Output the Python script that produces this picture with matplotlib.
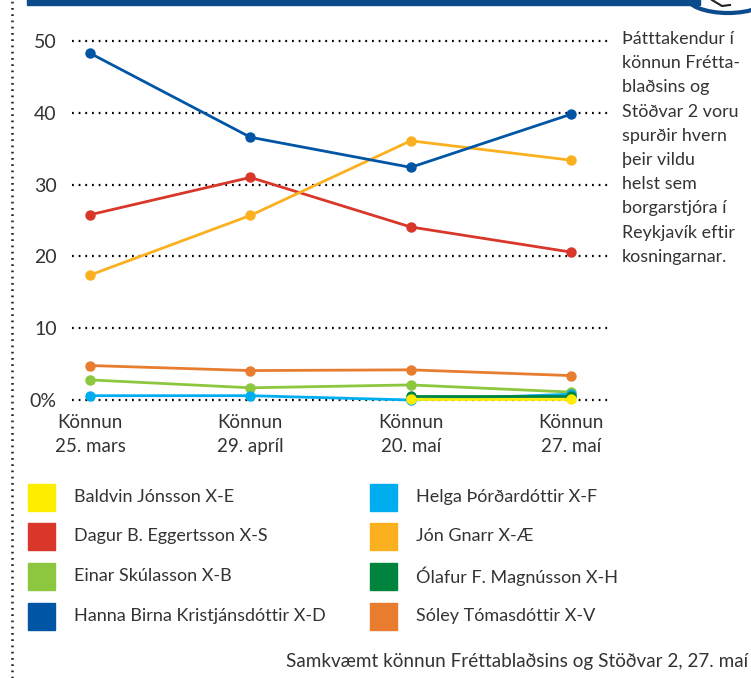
import numpy as np
import matplotlib
matplotlib.use("Agg")
import matplotlib.pyplot as plt
from matplotlib.patches import Rectangle, Arc
from matplotlib.lines import Line2D

plt.rcParams['font.family'] = ['Lato', 'DejaVu Sans']

surveys = ["Könnun\n25. mars", "Könnun\n29. apríl", "Könnun\n20. maí", "Könnun\n27. maí"]
nan = np.nan
baldvin = [nan, nan, 0.1, 0.1]
dagur = [25.8, 31.0, 24.1, 20.6]
einar = [2.8, 1.7, 2.1, 1.1]
hanna = [48.3, 36.6, 32.4, 39.8]
helga = [0.6, 0.6, 0.0, 0.8]
jon = [17.4, 25.7, 36.1, 33.4]
olafur = [nan, nan, 0.5, 0.5]
soley = [4.8, 4.1, 4.2, 3.4]

names = ["Baldvin Jónsson X-E", "Dagur B. Eggertsson X-S", "Einar Skúlasson X-B",
         "Hanna Birna Kristjánsdóttir X-D", "Helga Þórðardóttir X-F", "Jón Gnarr X-Æ",
         "Ólafur F. Magnússon X-H", "Sóley Tómasdóttir X-V"]
series = [baldvin, dagur, einar, hanna, helga, jon, olafur, soley]
colors = ["#FFED00", "#D9372A", "#8DC63F", "#0055A5", "#00AEEF", "#FBB01F", "#00843D", "#E87D2F"]
yticks = [0, 10, 20, 30, 40, 50]
ytick_labels = ["0%", "10", "20", "30", "40", "50"]

W, H = 751, 678
fig = plt.figure(figsize=(W / 100, H / 100), dpi=100)

# axes geometry in pixels
ax_left, ax_right = 72, 608
ax_top, ax_bottom = 30, 410
ax = fig.add_axes([ax_left / W, 1 - ax_bottom / H, (ax_right - ax_left) / W, (ax_bottom - ax_top) / H])
ppu_x = (571 - 90) / 3
ax.set_xlim((ax_left - 90) / ppu_x, (ax_right - 90) / ppu_x)
ppu_y = (400 - 41) / 50
ax.set_ylim(-(ax_bottom - 400) / ppu_y, 50 + (41 - ax_top) / ppu_y)
for s in ax.spines.values():
    s.set_visible(False)

for y in yticks:
    ax.axhline(y, color="black", lw=1.6, ls=(0, (0.8, 2.2)), zorder=1)

x = np.arange(len(surveys))
order = [7, 2, 1, 5, 3, 4, 6, 0]
for i in order:
    ax.plot(x, series[i], color=colors[i], lw=2.0, marker="o", ms=6.5, zorder=3, clip_on=False)

ax.set_yticks(yticks)
ax.set_yticklabels(ytick_labels, fontsize=14, color="#333333")
ax.set_xticks(x)
ax.set_xticklabels(surveys, fontsize=13.5, color="#333333", linespacing=1.5)
ax.tick_params(length=0, pad=3)
ax.tick_params(axis="y", pad=11)

# side text
side = ("Þátttakendur í\nkönnun Frétta-\nblaðsins og\nStöðvar 2 voru\nspurðir hvern\n"
        "þeir vildu\nhelst sem\nborgarstjóra í\nReykjavík eftir\nkosningarnar.")
fig.text(622 / W, 1 - 31 / H, side, fontsize=12.9, color="#333333", va="top", ha="left",
         linespacing=1.63)

# legend
col_x = [28, 370]
row_y = [497, 536, 576, 616]
for k, name in enumerate(names):
    c = k // 4
    r = k % 4
    sx = col_x[c]
    sy = row_y[r]
    fig.patches.append(Rectangle((sx / W, 1 - (sy + 13.5) / H), 27 / W, 27 / H,
                                 transform=fig.transFigure, color=colors[k]))
    fig.text((sx + 46) / W, 1 - sy / H, name, fontsize=13.0, color="#333333", va="center", ha="left")

fig.text(748 / W, 1 - 662 / H, "Samkvæmt könnun Fréttablaðsins og Stöðvar 2, 27. maí",
         fontsize=13.6, color="#333333", ha="right", va="center")

# header bar and decorations
fig.patches.append(Rectangle((27 / W, 1 - 5 / H), (700 - 27) / W, 6 / H,
                             transform=fig.transFigure, color="#0B4A8B"))
fig.lines.append(Line2D([12 / W, 12 / W], [0, 1], transform=fig.transFigure,
                        color="#222222", lw=1.8, ls=(0, (0.7, 1.8))))
arc = Arc((728 / W, 1 + 4 / H), 84 / W, 34 / H, theta1=180, theta2=360,
          transform=fig.transFigure, color="#0B4A8B", lw=3)
fig.patches.append(arc)
fig.lines.append(Line2D([712 / W, 722 / W, 730 / W], [1 - 0 / H, 1 - 6 / H, 1 - 5 / H],
                        transform=fig.transFigure, color="#222222", lw=1.5))

fig.savefig("out.png", dpi=100, facecolor="white")
